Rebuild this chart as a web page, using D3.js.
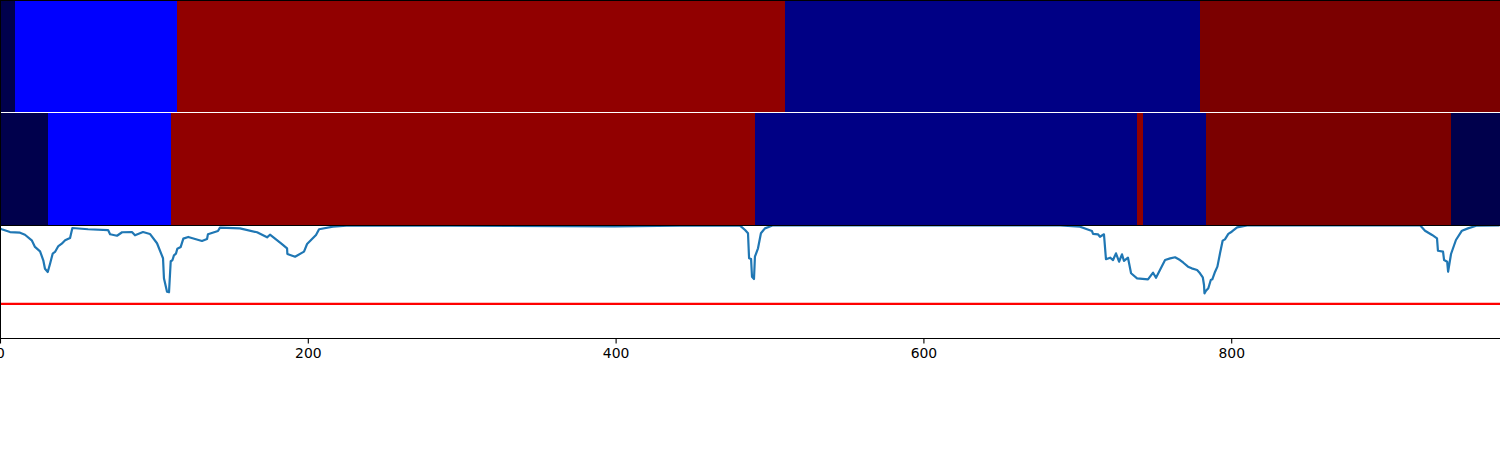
<!DOCTYPE html>
<html><head><meta charset="utf-8">
<script src="https://cdn.jsdelivr.net/npm/d3@7/dist/d3.min.js"></script>
<style>html,body{margin:0;padding:0;background:#fff}svg{display:block}text{font-family:"DejaVu Sans";}</style>
</head><body>
<svg id="c" width="1500" height="450"></svg>
<script>
const xMax = 974;
const xTicks = [0,200,400,600,800];
const threshold = 0.305;
// state segments: start of each run, and the state of that run
const rowAStarts = [0,9.7,114.7,510,779.5];
const rowAStates = ["a","b","c","d","e"];
const rowBStarts = [0,31,111,490,738.5,742.5,783,942.5];
const rowBStates = ["a","b","c","d","c","d","e","a"];
const stateNames = ["a","b","c","d","e"];
const stateColors = ["#00004c","#0000ff","#910000","#000085","#7b0000"];
const lineX = [0,0.8,6.2,12.7,15.9,20.3,22.4,25.7,27.8,28.9,30.7,32.2,33.9,35.4,37.6,39.8,42,45.2,46.7,56.9,69.9,71.2,75.7,79,85.4,87.4,92.6,97.1,101.7,105.6,106.2,108.2,109.5,110.6,111.7,112.7,114,114.9,117.1,118.8,122,130.9,134.2,134.8,141.3,142.6,155.6,166.7,173.2,175.1,182.9,186.2,186.4,191.4,197.2,199.2,205,207,216,227,292,399,441.5,480.5,483.8,485.7,486.4,487.7,488.3,489.6,490.2,492.2,494.1,496.7,502,688.5,701.4,706,709.2,709.9,713.1,714.4,717,718.3,721,722.9,724.8,726.8,728.7,730,732.6,734.6,738.5,745.6,748.9,750.8,756.7,760,763.2,766.4,768.6,771.6,774,777.5,779.4,781.2,782,782.3,783.3,784.8,786.4,787.4,789.2,790.7,792.4,794.1,795.6,797.8,800,803.5,810,922.4,925.6,930.2,933.4,934,937.3,938,940,940.6,942.5,945.7,949.6,953.5,959.4,974];
const lineY = [.976,.971,.946,.940,.922,.872,.813,.774,.694,.618,.589,.663,.753,.768,.821,.842,.872,.893,.982,.971,.964,.926,.913,.944,.946,.917,.946,.929,.846,.712,.533,.413,.408,.685,.694,.738,.753,.797,.813,.887,.902,.866,.884,.926,.955,.985,.979,.944,.899,.922,.839,.801,.750,.726,.771,.839,.920,.971,.994,1.006,1.003,.996,1.003,1.004,.964,.935,.712,.705,.547,.527,.726,.801,.935,.979,1.006,1.006,.994,.971,.955,.929,.926,.904,.926,.703,.717,.696,.756,.681,.747,.688,.717,.578,.533,.524,.583,.538,.696,.711,.721,.696,.672,.637,.622,.607,.578,.542,.473,.399,.422,.444,.518,.524,.592,.637,.756,.869,.881,.929,.949,.988,1.006,1.006,.958,.920,.890,.779,.771,.696,.681,.592,.750,.875,.958,.979,1.004,1.006];

const svg = d3.select("#c");
const x = d3.scaleLinear().domain([0,xMax]).range([0,1499]);
const y = d3.scaleLinear().domain([0,1]).range([338,226]);
const color = d3.scaleOrdinal().domain(stateNames).range(stateColors);

function row(starts, states, top, bottom){
  const g = svg.append("g");
  g.selectAll("rect").data(starts).join("rect")
    .attr("x",(d)=>x(d)+0.5)
    .attr("width",(d,i)=>(i+1<starts.length?x(starts[i+1]):1500)-x(d))
    .attr("y",top).attr("height",bottom-top)
    .attr("fill",(d,i)=>color(states[i]))
    .attr("shape-rendering","crispEdges");
}
row(rowAStarts,rowAStates,0,112);
row(rowBStarts,rowBStates,113,225);

svg.append("clipPath").attr("id","plot").append("rect")
  .attr("x",0).attr("y",y(1)).attr("width",1500).attr("height",y(0)-y(1));

svg.append("line").attr("x1",0.5).attr("x2",1500)
  .attr("y1",y(threshold)).attr("y2",y(threshold))
  .attr("stroke","#ff0000").attr("stroke-width",2.1);

const pts = lineX.map((d,i)=>[d,lineY[i]]);
svg.append("path").datum(pts)
  .attr("clip-path","url(#plot)")
  .attr("d",d3.line().x(d=>x(d[0])+0.5).y(d=>y(d[1])))
  .attr("fill","none").attr("stroke","#1f77b4").attr("stroke-width",2.2)
  .attr("stroke-linejoin","round");

// spines
const spine = (a,b,c,d)=>svg.append("line").attr("x1",a).attr("y1",b).attr("x2",c).attr("y2",d).attr("stroke","#000").attr("stroke-width",1).attr("shape-rendering","crispEdges");
spine(0,0.5,1500,0.5);
spine(0,225.5,1500,225.5);
spine(0.5,0,0.5,338.5);
spine(0,338.5,1500,338.5);

const ax = svg.append("g").attr("transform","translate(0,338.5)")
  .call(d3.axisBottom(x).tickValues(xTicks).tickFormat(d3.format("d")).tickSize(4.9).tickPadding(4.9));
ax.select(".domain").remove();
ax.selectAll("line").attr("stroke","#000").attr("stroke-width",1.1);
ax.selectAll("text").attr("fill","#000").style("font-family",'"DejaVu Sans"').style("font-size","13.9px");
</script>
</body></html>
